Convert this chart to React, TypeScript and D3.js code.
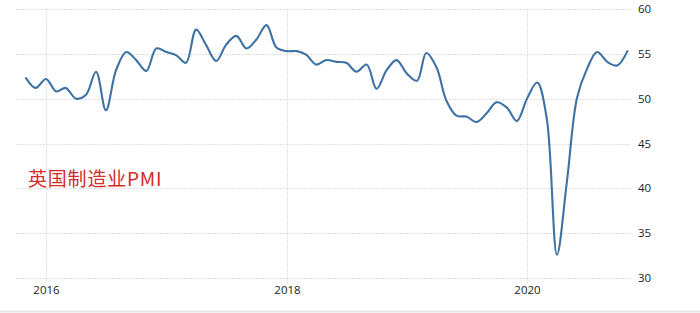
import React from "react";
import * as d3 from "d3";

const startMonth = "2015-11";
const pmiValues: number[] = [
  52.3, 51.2,
  52.2, 50.8, 51.2, 50.0, 50.4, 53.0, 48.7, 53.2, 55.2, 54.3, 53.1, 55.6,
  55.2, 54.8, 54.0, 57.7, 56.0, 54.2, 56.0, 57.0, 55.6, 56.6, 58.2, 55.7,
  55.3, 55.3, 54.9, 53.8, 54.3, 54.1, 54.0, 53.0, 53.8, 51.1, 53.2, 54.3,
  52.8, 52.0, 55.1, 53.5, 49.8, 48.1, 48.0, 47.4, 48.4, 49.6, 49.0, 47.5,
  50.0, 51.8, 47.8, 32.6, 40.7, 50.1, 53.3, 55.2, 54.1, 53.7, 55.3,
];
const xTickYears: number[] = [2016, 2018, 2020];
const yTicks: number[] = [30, 35, 40, 45, 50, 55, 60];
const title = "英国制造业PMI";

const W = 700;
const H = 313;

export default function App() {
  const parse = d3.timeParse("%Y-%m");
  const start = parse(startMonth) as Date;
  const data = pmiValues.map((v, i) => ({ date: d3.timeMonth.offset(start, i), value: v }));

  const x = d3
    .scaleTime()
    .domain([new Date(2016, 0, 1), new Date(2020, 0, 1)])
    .range([46, 527]);
  const y = d3.scaleLinear().domain([30, 60]).range([278, 9]);

  const line = d3
    .line<{ date: Date; value: number }>()
    .x((d) => x(d.date))
    .y((d) => y(d.value))
    .curve(d3.curveCatmullRom.alpha(0.5));

  const gridLeft = 16;
  const gridRight = 630;

  return (
    <svg
      width={W}
      height={H}
      style={{ position: "absolute", left: 0, top: 0, background: "#fff" }}
    >
      {yTicks.map((t) => (
        <g key={"y" + t}>
          <line
            x1={gridLeft}
            x2={gridRight}
            y1={Math.round(y(t)) + 0.5}
            y2={Math.round(y(t)) + 0.5}
            stroke="#e0e0e0"
            strokeWidth={1}
            strokeDasharray="2,1"
          />
          <text
            x={638}
            y={y(t)}
            dy="0.35em"
            fontFamily="'Open Sans', 'Noto Sans', sans-serif"
            fontSize={11.5}
            fill="#222"
          >
            {t}
          </text>
        </g>
      ))}
      {xTickYears.map((yr) => {
        const xx = Math.round(x(new Date(yr, 0, 1))) + 0.5;
        return (
          <g key={"x" + yr}>
            <line
              x1={xx}
              x2={xx}
              y1={9}
              y2={283}
              stroke="#e0e0e0"
              strokeWidth={1}
              strokeDasharray="2,1"
            />
            <text
              x={xx}
              y={294}
              textAnchor="middle"
              fontFamily="'Open Sans', 'Noto Sans', sans-serif"
              fontSize={11.5}
              fill="#222"
            >
              {yr}
            </text>
          </g>
        );
      })}
      <line x1={0} x2={W} y1={311.5} y2={311.5} stroke="#e6e6e6" strokeWidth={2} />
      <path
        d={line(data) || ""}
        fill="none"
        stroke="#3d72a4"
        strokeWidth={2.1}
        strokeLinejoin="round"
        strokeLinecap="round"
      />
      <text
        x={28}
        y={186}
        fontFamily="'Noto Sans CJK SC', sans-serif"
        fontSize={19}
        letterSpacing={0.8}
        fill="#d52b2b"
      >
        {title}
      </text>
    </svg>
  );
}
